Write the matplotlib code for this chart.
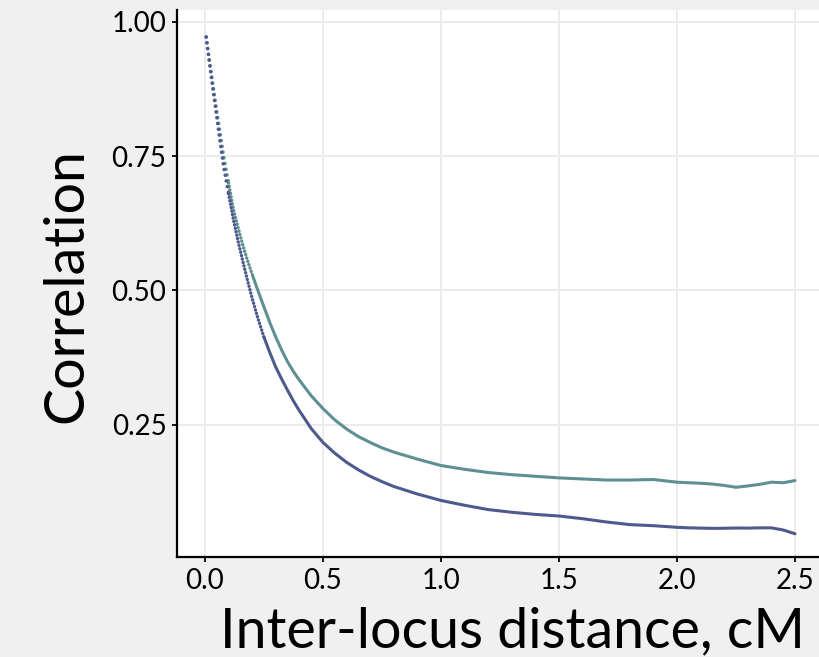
import numpy as np
import matplotlib.pyplot as plt

# inter-locus distance (cM) and correlation
distance = [0.005, 0.02, 0.04, 0.06, 0.08, 0.10, 0.12, 0.14, 0.16, 0.18,
            0.20, 0.225, 0.25, 0.275, 0.30, 0.325, 0.35, 0.375, 0.40, 0.45,
            0.50, 0.55, 0.60, 0.65, 0.70, 0.75, 0.80, 0.90, 1.0, 1.1,
            1.2, 1.3, 1.4, 1.5, 1.6, 1.7, 1.8, 1.9, 2.0, 2.05,
            2.1, 2.15, 2.2, 2.25, 2.3, 2.35, 2.4, 2.45, 2.5]

# upper curve (teal)
corr_upper = [0.972, 0.925, 0.863, 0.804, 0.748, 0.700, 0.652, 0.617, 0.585, 0.556,
              0.530, 0.499, 0.469, 0.440, 0.413, 0.389, 0.367, 0.349, 0.333, 0.304,
              0.280, 0.259, 0.242, 0.228, 0.217, 0.207, 0.199, 0.186, 0.174, 0.167,
              0.161, 0.157, 0.154, 0.151, 0.149, 0.147, 0.147, 0.148, 0.143, 0.142,
              0.141, 0.1395, 0.137, 0.1335, 0.136, 0.139, 0.143, 0.142, 0.146]

# lower curve (blue)
corr_lower = [0.972, 0.920, 0.855, 0.790, 0.728, 0.680, 0.633, 0.592, 0.555, 0.519,
              0.485, 0.447, 0.413, 0.384, 0.357, 0.335, 0.314, 0.294, 0.276, 0.243,
              0.217, 0.197, 0.180, 0.166, 0.154, 0.144, 0.135, 0.121, 0.109, 0.100,
              0.092, 0.087, 0.083, 0.080, 0.075, 0.069, 0.064, 0.062, 0.059, 0.058,
              0.0575, 0.057, 0.0572, 0.0577, 0.0575, 0.058, 0.058, 0.054, 0.047]

plt.rcParams['font.family'] = ['Lato', 'DejaVu Sans']

fig = plt.figure(figsize=(8.2, 6.57), dpi=100, facecolor='#f0f0f0')
ax = fig.add_axes([177/820, 100/657, 643/820, 547/657])
ax.set_facecolor('white')


def draw_curve(y, color, cut1, cut2):
    # steep part looks like separate dots, flat part a solid line
    ax.plot(distance[:cut1 + 1], y[:cut1 + 1], color=color, lw=2.6,
            linestyle=(0, (0.01, 1.6)), dash_capstyle='round')
    ax.plot(distance[cut1:cut2 + 1], y[cut1:cut2 + 1], color=color, lw=2.5,
            linestyle=(0, (0.01, 1.0)), dash_capstyle='round')
    ax.plot(distance[cut2:], y[cut2:], color=color, lw=2.2,
            solid_capstyle='round')


draw_curve(corr_upper, '#5e8f91', 5, 10)
draw_curve(corr_lower, '#4e5a8e', 5, 12)

ax.set_xlim(-0.1186, 2.606)
ax.set_ylim(0.0037, 1.0223)
ax.set_xticks([0.0, 0.5, 1.0, 1.5, 2.0, 2.5])
ax.set_xticklabels(['0.0', '0.5', '1.0', '1.5', '2.0', '2.5'])
ax.set_yticks([0.25, 0.50, 0.75, 1.00])
ax.set_yticklabels(['0.25', '0.50', '0.75', '1.00'])

ax.grid(True, color='#ebebeb', lw=1.4)
ax.set_axisbelow(True)
for s in ['top', 'right']:
    ax.spines[s].set_visible(False)
for s in ['left', 'bottom']:
    ax.spines[s].set_color('black')
    ax.spines[s].set_linewidth(1.6)
ax.tick_params(axis='both', length=3.6, width=1.3, color='black',
               labelsize=20, labelcolor='black')
ax.tick_params(axis='y', pad=4)
ax.tick_params(axis='x', pad=4)

ax.set_xlabel('Inter-locus distance, cM', fontsize=40)
ax.set_ylabel('Correlation', fontsize=40)
ax.xaxis.set_label_coords((513 - 177) / 643, -0.09)
ax.yaxis.set_label_coords((92 - 177) / 643, (557 - 286) / 547)

fig.savefig('out.png', dpi=100, facecolor=fig.get_facecolor())
